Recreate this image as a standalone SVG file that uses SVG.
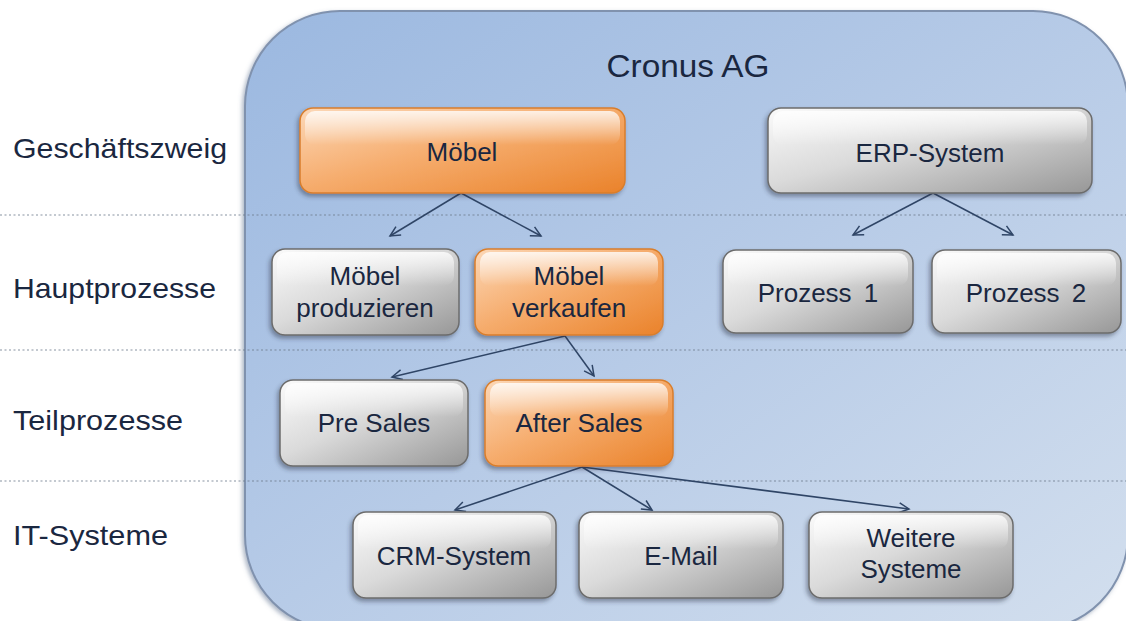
<svg xmlns="http://www.w3.org/2000/svg" width="1126" height="621" viewBox="0 0 1126 621">
  <defs>
    <linearGradient id="gPanel" x1="0" y1="0" x2="1" y2="1">
      <stop offset="0" stop-color="#9bb8e0"/>
      <stop offset="0.5" stop-color="#b7cbe7"/>
      <stop offset="1" stop-color="#d3dfee"/>
    </linearGradient>
    <linearGradient id="gGrey" x1="0" y1="0" x2="1" y2="1">
      <stop offset="0" stop-color="#fbfbfb"/>
      <stop offset="0.45" stop-color="#dadada"/>
      <stop offset="1" stop-color="#979797"/>
    </linearGradient>
    <linearGradient id="gOrange" x1="0" y1="0" x2="1" y2="1">
      <stop offset="0" stop-color="#fcd8b8"/>
      <stop offset="0.45" stop-color="#f6ae70"/>
      <stop offset="1" stop-color="#ea822a"/>
    </linearGradient>
    <linearGradient id="gGloss" x1="0" y1="0" x2="0" y2="1">
      <stop offset="0" stop-color="#ffffff" stop-opacity="0.8"/>
      <stop offset="1" stop-color="#ffffff" stop-opacity="0"/>
    </linearGradient>
    <filter id="fShadow" x="-10%" y="-10%" width="120%" height="130%">
      <feDropShadow dx="-2" dy="3" stdDeviation="2" flood-color="#2a3345" flood-opacity="0.45"/>
    </filter>
    <filter id="fPanel" x="-5%" y="-5%" width="110%" height="110%">
      <feDropShadow dx="-2" dy="2" stdDeviation="2" flood-color="#5b6f8e" flood-opacity="0.5"/>
    </filter>
    <marker id="arrow" markerUnits="userSpaceOnUse" markerWidth="14" markerHeight="14" refX="11" refY="6" orient="auto">
      <path d="M1,1 L11,6 L1,11" fill="none" stroke="#2f4566" stroke-width="1.5"/>
    </marker>
    <style>
      .body { stroke-width: 1.5; filter: url(#fShadow); }
      .grey .body { fill: url(#gGrey); stroke: #6c6c6c; }
      .orange .body { fill: url(#gOrange); stroke: #d97e2c; }
      .gloss { fill: url(#gGloss); }
      .node text { font-family: "Liberation Sans", Arial, sans-serif; font-size: 26px; fill: #1a2740; text-anchor: middle; }
      .lane { font-family: "Liberation Sans", Arial, sans-serif; font-size: 28px; fill: #1a2740; }
      .title { font-family: "Liberation Sans", Arial, sans-serif; font-size: 31px; fill: #1a2740; text-anchor: middle; }
      .sep { stroke: #6f7c8e; stroke-opacity: 0.55; stroke-width: 1.5; stroke-dasharray: 2 2.5; }
      .conn line { stroke: #2f4566; stroke-width: 1.5; marker-end: url(#arrow); }
    </style>
  </defs>

  <rect width="1126" height="621" fill="#ffffff"/>

  <!-- company panel -->
  <rect id="panel" x="245" y="11" width="883" height="619" rx="95" ry="95" fill="url(#gPanel)" stroke="#8092ae" stroke-width="2" filter="url(#fPanel)"/>
  <text class="title" x="688" y="77" textLength="163" lengthAdjust="spacingAndGlyphs">Cronus AG</text>

  <!-- lane separators -->
  <g id="separators">
    <line class="sep" x1="0" y1="215" x2="1126" y2="215"/>
    <line class="sep" x1="0" y1="350" x2="1126" y2="350"/>
    <line class="sep" x1="0" y1="481" x2="1126" y2="481"/>
  </g>

  <!-- lane labels -->
  <g id="lanes">
    <text class="lane" x="13" y="158" textLength="214" lengthAdjust="spacingAndGlyphs">Geschäftszweig</text>
    <text class="lane" x="13" y="298" textLength="203" lengthAdjust="spacingAndGlyphs">Hauptprozesse</text>
    <text class="lane" x="13" y="430" textLength="170" lengthAdjust="spacingAndGlyphs">Teilprozesse</text>
    <text class="lane" x="13" y="545" textLength="155" lengthAdjust="spacingAndGlyphs">IT-Systeme</text>
  </g>

  <!-- connectors -->
  <g id="connectors" class="conn">
    <line x1="461" y1="193" x2="390" y2="236"/>
    <line x1="461" y1="193" x2="541" y2="236"/>
    <line x1="933" y1="193" x2="853" y2="235"/>
    <line x1="933" y1="193" x2="1013" y2="235"/>
    <line x1="565" y1="336" x2="392" y2="377"/>
    <line x1="565" y1="336" x2="594" y2="376"/>
    <line x1="582" y1="467" x2="455" y2="510"/>
    <line x1="582" y1="467" x2="652" y2="510"/>
    <line x1="582" y1="467" x2="909" y2="509"/>
  </g>

  <!-- nodes -->
  <g id="n-moebel" class="node orange">
    <rect class="body" x="300" y="108" width="325" height="85" rx="13"/>
    <rect class="gloss" x="305" y="111" width="315" height="34" rx="10"/>
    <text x="462" y="161">Möbel</text>
  </g>
  <g id="n-erp" class="node grey">
    <rect class="body" x="768" y="108" width="324" height="85" rx="13"/>
    <rect class="gloss" x="773" y="111" width="314" height="34" rx="10"/>
    <text x="930" y="162">ERP-System</text>
  </g>
  <g id="n-produzieren" class="node grey">
    <rect class="body" x="272" y="249" width="187" height="86" rx="13"/>
    <rect class="gloss" x="277" y="252" width="177" height="34" rx="10"/>
    <text x="365" y="285">Möbel</text>
    <text x="365" y="317">produzieren</text>
  </g>
  <g id="n-verkaufen" class="node orange">
    <rect class="body" x="475" y="249" width="188" height="86" rx="13"/>
    <rect class="gloss" x="480" y="252" width="178" height="34" rx="10"/>
    <text x="569" y="285">Möbel</text>
    <text x="569" y="317">verkaufen</text>
  </g>
  <g id="n-prozess1" class="node grey">
    <rect class="body" x="723" y="250" width="190" height="83" rx="13"/>
    <rect class="gloss" x="728" y="253" width="180" height="33" rx="10"/>
    <text x="818" y="302" word-spacing="5">Prozess 1</text>
  </g>
  <g id="n-prozess2" class="node grey">
    <rect class="body" x="932" y="250" width="189" height="83" rx="13"/>
    <rect class="gloss" x="937" y="253" width="179" height="33" rx="10"/>
    <text x="1026" y="302" word-spacing="5">Prozess 2</text>
  </g>
  <g id="n-presales" class="node grey">
    <rect class="body" x="280" y="380" width="188" height="86" rx="13"/>
    <rect class="gloss" x="285" y="383" width="178" height="34" rx="10"/>
    <text x="374" y="432">Pre Sales</text>
  </g>
  <g id="n-aftersales" class="node orange">
    <rect class="body" x="485" y="380" width="188" height="86" rx="13"/>
    <rect class="gloss" x="490" y="383" width="178" height="34" rx="10"/>
    <text x="579" y="432">After Sales</text>
  </g>
  <g id="n-crm" class="node grey">
    <rect class="body" x="353" y="512" width="203" height="86" rx="13"/>
    <rect class="gloss" x="358" y="515" width="193" height="34" rx="10"/>
    <text x="454" y="565">CRM-System</text>
  </g>
  <g id="n-email" class="node grey">
    <rect class="body" x="579" y="512" width="204" height="86" rx="13"/>
    <rect class="gloss" x="584" y="515" width="194" height="34" rx="10"/>
    <text x="681" y="565">E-Mail</text>
  </g>
  <g id="n-weitere" class="node grey">
    <rect class="body" x="809" y="512" width="204" height="86" rx="13"/>
    <rect class="gloss" x="814" y="515" width="194" height="34" rx="10"/>
    <text x="911" y="547">Weitere</text>
    <text x="911" y="578">Systeme</text>
  </g>
</svg>
